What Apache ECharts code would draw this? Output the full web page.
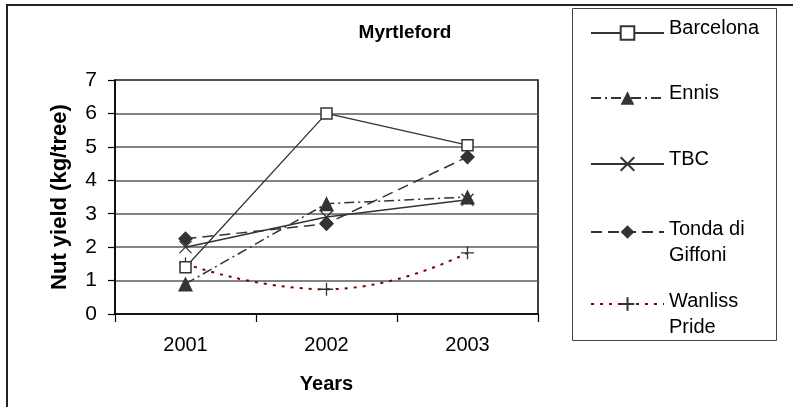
<!DOCTYPE html>
<html>
<head>
<meta charset="utf-8">
<script src="https://cdn.jsdelivr.net/npm/echarts@6/dist/echarts.min.js"></script>
<style>
html,body{margin:0;padding:0;background:#fff;}
#chart{width:793px;height:407px;}
</style>
</head>
<body>
<div id="chart"></div>
<script>
var categories = ['2001', '2002', '2003'];
var barcelona = [1.4, 6.0, 5.05];
var ennis = [0.9, 3.3, 3.5];
var tbc = [2.0, 2.9, 3.42];
var tonda = [2.25, 2.7, 4.7];
var wanliss = [1.5, 0.74, 1.83];
var yTicks = [0, 1, 2, 3, 4, 5, 6, 7];

var FONT = 'Liberation Sans, Arial, sans-serif';
var dark = '#333';
var xPath = 'path://M0,0L10,10M10,0L0,10';
var plusPath = 'path://M5,0L5,10M0,5L10,5';

function legendFor(name, lines, top) {
  var label;
  if (lines.length > 1) {
    label = '{pre| }\n' + lines.map(function (l) { return '{a|' + l + '}'; }).join('\n');
  } else {
    label = '{a|' + lines[0] + '}\n{post| }';
  }
  return {
    data: [name],
    left: 590,
    top: top,
    padding: 0,
    itemWidth: 73,
    itemHeight: 17,
    formatter: function () { return label; },
    textStyle: {
      fontFamily: FONT,
      fontSize: 20,
      color: '#000',
      rich: {
        a: {fontFamily: FONT, fontSize: 20, color: '#000', lineHeight: lines.length > 1 ? 26 : 24},
        pre: {fontSize: 4, lineHeight: 20},
        post: {fontSize: 4, lineHeight: 10}
      }
    }
  };
}

var chart = echarts.init(document.getElementById('chart'), null, {renderer: 'canvas'});
chart.setOption({
  animation: false,
  backgroundColor: '#fff',
  title: {
    text: 'Myrtleford',
    left: 405,
    top: 23,
    textAlign: 'center',
    padding: 0,
    textStyle: {fontFamily: FONT, fontSize: 19, fontWeight: 'bold', color: '#000'}
  },
  legend: [
    legendFor('Barcelona', ['Barcelona'], 18),
    legendFor('Ennis', ['Ennis'], 83),
    legendFor('TBC', ['TBC'], 149),
    legendFor('Tonda di Giffoni', ['Tonda di', 'Giffoni'], 204),
    legendFor('Wanliss Pride', ['Wanliss', 'Pride'], 276)
  ],
  graphic: [
    {type: 'polyline', silent: true, z: 100,
     shape: {points: [[7, 420], [7, 5], [800, 5]]},
     style: {fill: 'none', stroke: '#222', lineWidth: 2}},
    {type: 'rect', silent: true, z: 100,
     shape: {x: 572.5, y: 8.5, width: 204, height: 332},
     style: {fill: 'none', stroke: '#444', lineWidth: 1}}
  ],
  grid: {
    left: 115, top: 80, width: 423, height: 234,
    show: true, borderColor: '#000', borderWidth: 1.5, backgroundColor: 'transparent'
  },
  xAxis: {
    type: 'category',
    data: categories,
    boundaryGap: true,
    name: 'Years',
    nameLocation: 'middle',
    nameGap: 60,
    nameTextStyle: {fontFamily: FONT, fontSize: 20, fontWeight: 'bold', color: '#000'},
    axisLine: {lineStyle: {color: '#000', width: 1.5}},
    axisTick: {show: true, length: 8, lineStyle: {color: '#000', width: 1.2}},
    axisLabel: {fontFamily: FONT, fontSize: 20, color: '#000', margin: 21},
    splitLine: {show: false}
  },
  yAxis: {
    type: 'value',
    min: yTicks[0],
    max: yTicks[yTicks.length - 1],
    interval: 1,
    name: 'Nut yield (kg/tree)',
    nameLocation: 'middle',
    nameGap: 44,
    nameTextStyle: {fontFamily: FONT, fontSize: 22, fontWeight: 'bold', color: '#000'},
    axisLine: {show: true, lineStyle: {color: '#000', width: 1.5}},
    axisTick: {show: true, length: 7, lineStyle: {color: '#000', width: 1.2}},
    axisLabel: {fontFamily: FONT, fontSize: 21, color: '#000', margin: 18},
    splitLine: {show: true, lineStyle: {color: '#5a5a5a', width: 1.5}}
  },
  series: [
    {
      name: 'Barcelona', type: 'line', data: barcelona,
      symbol: 'rect', symbolSize: 11,
      lineStyle: {color: dark, width: 1.3, type: 'solid'},
      itemStyle: {color: '#fff', borderColor: dark, borderWidth: 1.5},
      z: 5
    },
    {
      name: 'Ennis', type: 'line', data: ennis,
      symbol: 'triangle', symbolSize: 15,
      lineStyle: {color: dark, width: 1.5, type: [10, 4, 2, 4]},
      itemStyle: {color: dark},
      z: 4
    },
    {
      name: 'TBC', type: 'line', data: tbc,
      symbol: xPath, symbolSize: 12,
      lineStyle: {color: dark, width: 1.5, type: 'solid'},
      itemStyle: {color: 'rgba(0,0,0,0)', borderColor: dark, borderWidth: 1.3},
      z: 3
    },
    {
      name: 'Tonda di Giffoni', type: 'line', data: tonda,
      symbol: 'diamond', symbolSize: 15,
      lineStyle: {color: dark, width: 1.5, type: [11, 6]},
      itemStyle: {color: dark},
      z: 4
    },
    {
      name: 'Wanliss Pride', type: 'line', data: wanliss,
      symbol: plusPath, symbolSize: 13,
      smooth: 0.5,
      lineStyle: {color: '#800000', width: 2, type: [3, 6]},
      itemStyle: {color: 'rgba(0,0,0,0)', borderColor: dark, borderWidth: 1.3},
      z: 3
    }
  ]
});
</script>
</body>
</html>
